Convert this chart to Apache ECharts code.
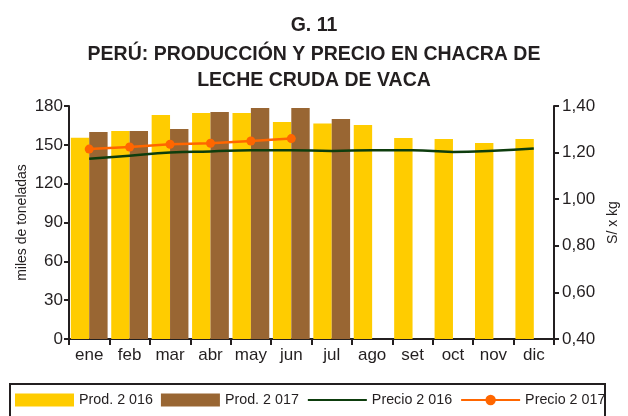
<!DOCTYPE html>
<html>
<head>
<meta charset="utf-8">
<script src="https://cdn.jsdelivr.net/npm/echarts@6/dist/echarts.min.js"></script>
<style>
html, body { margin: 0; padding: 0; background: #fff; }
#main { width: 628px; height: 416px; }
</style>
</head>
<body>
<div id="main"></div>
<script>
var meses = ['ene', 'feb', 'mar', 'abr', 'may', 'jun', 'jul', 'ago', 'set', 'oct', 'nov', 'dic'];
var prod2016 = [155.5, 160.7, 173, 174.6, 174.6, 167.7, 166.4, 165.4, 155.3, 154.5, 151.5, 154.5];
var prod2017 = [160, 160.7, 162.3, 175.4, 178.5, 178.5, 170];
var precio2016 = [1.174, 1.187, 1.200, 1.205, 1.210, 1.210, 1.207, 1.210, 1.210, 1.203, 1.208, 1.218];
var precio2017 = [1.215, 1.224, 1.236, 1.240, 1.250, 1.260];
var nombres = ['Prod. 2 016', 'Prod. 2 017', 'Precio 2 016', 'Precio 2 017'];

var fuente = "'Liberation Sans', Arial, sans-serif";
var oscuro = '#231f20';

var myChart = echarts.init(document.getElementById('main'));
var option = {
	animation : false,
	textStyle : {
		fontFamily : fuente
	},
	title : [ {
		text : 'G. 11',
		left : 'center',
		top : 11,
		textStyle : { fontFamily : fuente, fontSize : 19.5, fontWeight : 'bold', color : oscuro }
	}, {
		text : 'PERÚ: PRODUCCIÓN Y PRECIO EN CHACRA DE',
		left : 'center',
		top : 40,
		textStyle : { fontFamily : fuente, fontSize : 19.5, fontWeight : 'bold', color : oscuro }
	}, {
		text : 'LECHE CRUDA DE VACA',
		left : 'center',
		top : 66,
		textStyle : { fontFamily : fuente, fontSize : 19.5, fontWeight : 'bold', color : oscuro }
	} ],
	legend : {
		data : [ {
			name : nombres[0],
			icon : 'rect'
		}, {
			name : nombres[1],
			icon : 'rect'
		}, {
			name : nombres[2],
			itemStyle : { opacity : 0 } // sin punto en la leyenda
		}, nombres[3] ],
		left : 15,
		top : 393,
		itemWidth : 59,
		itemHeight : 13,
		itemGap : 8,
		padding : 0,
		textStyle : { fontFamily : fuente, fontSize : 14.3, color : oscuro }
	},
	graphic : [ {
		type : 'rect',
		shape : { x : 10, y : 384, width : 595, height : 40 },
		style : { fill : null, stroke : oscuro, lineWidth : 2 }
	} ],
	grid : {
		left : 69,
		right : 72,
		top : 106,
		bottom : 77
	},
	xAxis : [ {
		type : 'category',
		data : meses,
		boundaryGap : true,
		axisLine : { lineStyle : { color : oscuro, width : 2 } },
		axisTick : { show : true, length : 6, lineStyle : { color : oscuro, width : 2 } },
		axisLabel : { interval : 0, fontSize : 17, color : oscuro, margin : 8 },
		splitLine : { show : false }
	} ],
	yAxis : [ {
		type : 'value',
		min : 0,
		max : 180,
		interval : 30,
		name : 'miles de toneladas',
		nameLocation : 'middle',
		nameGap : 40,
		nameMoveOverlap : false,
		nameTextStyle : { fontFamily : fuente, fontSize : 14, color : oscuro },
		axisLine : { show : true, lineStyle : { color : oscuro, width : 2 } },
		axisTick : { show : true, length : 5, lineStyle : { color : oscuro, width : 2 } },
		axisLabel : { fontSize : 17, color : oscuro, margin : 6 },
		splitLine : { show : false }
	}, {
		type : 'value',
		min : 0.4,
		max : 1.4,
		interval : 0.2,
		position : 'right',
		name : 'S/ x kg',
		nameLocation : 'middle',
		nameGap : 50,
		nameTextStyle : { fontFamily : fuente, fontSize : 14, color : oscuro },
		axisLine : { show : true, lineStyle : { color : oscuro, width : 2 } },
		axisTick : { show : true, length : 5, lineStyle : { color : oscuro, width : 2 } },
		axisLabel : {
			fontSize : 17,
			color : oscuro,
			margin : 8,
			formatter : function(v) {
				return v.toFixed(2).replace('.', ',');
			}
		},
		splitLine : { show : false }
	} ],
	series : [ {
		name : nombres[0],
		type : 'bar',
		data : prod2016,
		barGap : 0,
		barCategoryGap : '9%',
		itemStyle : { color : '#ffcc00' }
	}, {
		name : nombres[1],
		type : 'bar',
		data : prod2017,
		itemStyle : { color : '#996633' }
	}, {
		name : nombres[2],
		type : 'line',
		yAxisIndex : 1,
		data : precio2016,
		smooth : true,
		symbol : 'none',
		lineStyle : { color : '#0d3d0d', width : 2.5 },
		itemStyle : { color : '#0d3d0d' }
	}, {
		name : nombres[3],
		type : 'line',
		yAxisIndex : 1,
		data : precio2017,
		symbol : 'circle',
		symbolSize : 9,
		lineStyle : { color : '#ff6600', width : 2.5 },
		itemStyle : { color : '#ff6600' }
	} ]
};
myChart.setOption(option);
</script>
</body>
</html>
